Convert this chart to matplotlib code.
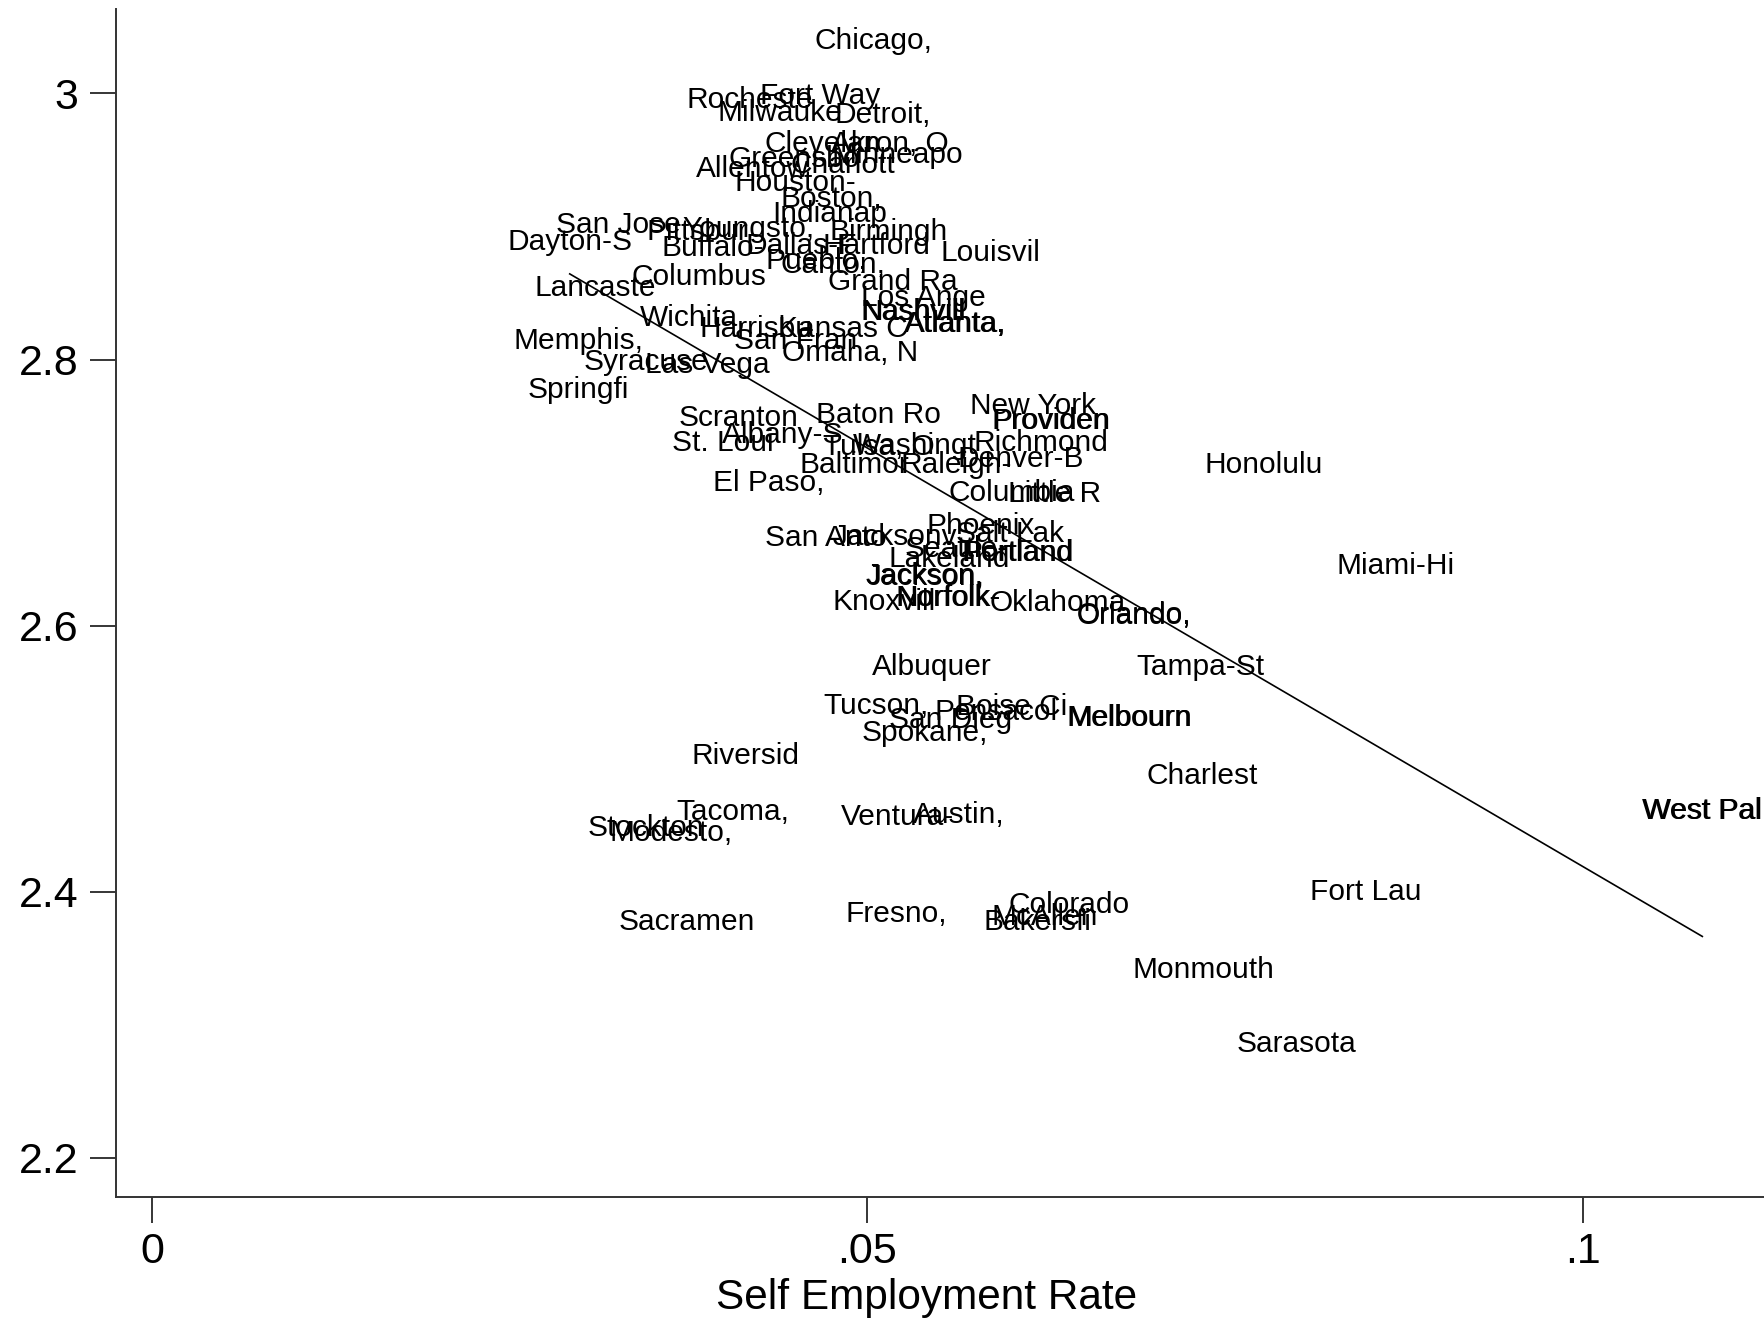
import numpy as np
import matplotlib
matplotlib.use('Agg')
import matplotlib.pyplot as plt

plt.rcParams['font.family'] = ['Liberation Sans', 'DejaVu Sans']

# metro area labels (truncated to 8 chars, as in the source), self employment rate, y value
cities = ['Chicago,', 'Rocheste', 'Fort Way', 'Milwauke', 'Detroit,', 'Clevelan', 'Akron, O',
          'Minneapo', 'Greensbo', 'Charlott', 'Allentow', 'Houston-', 'Boston,', 'Indianap',
          'San Jose', 'Dayton-S', 'Pittsbur', 'Youngsto,', 'Birmingh', 'Buffalo-', 'Dallas-F',
          'Hartford', 'Louisvil', 'Pueblo,', 'Canton,', 'Columbus', 'Grand Ra', 'Lancaste',
          'Los Ange', 'Nashvill', 'Nashvill', 'Atlanta,', 'Atlanta,', 'Kansas C', 'Wichita,',
          'Harrisbu', 'San Fran', 'Omaha, N', 'Memphis,', 'Syracuse', 'Las Vega', 'Springfi',
          'Scranton', 'Baton Ro', 'New York', 'Providen', 'Providen', 'St. Loui', 'Albany-S',
          'Tulsa, O', 'Washingt', 'Richmond', 'Baltimor', 'Raleigh-', 'Denver-B', 'El Paso,',
          'Columbia', 'Little R', 'Honolulu', 'San Anto', 'Jacksonv', 'Phoenix', 'Salt Lak',
          'Seattle-', 'Portland', 'Portland', 'Lakeland', 'Miami-Hi', 'Jackson,', 'Jackson,',
          'Knoxvill', 'Norfolk-', 'Norfolk-', 'Oklahoma', 'Orlando,', 'Orlando,', 'Albuquer',
          'Tampa-St', 'Tucson,', 'Boise Ci', 'Pensacol', 'San Dieg', 'Spokane,', 'Melbourn',
          'Melbourn', 'Riversid', 'Charlest', 'Tacoma,', 'Ventura-', 'Austin,', 'West Pal',
          'West Pal', 'Stockton', 'Modesto,', 'Fort Lau', 'Colorado', 'Fresno,', 'McAllen',
          'Sacramen', 'Bakersfi', 'Monmouth', 'Sarasota']

self_emp = [0.0504, 0.0418, 0.0467, 0.0439, 0.0511, 0.0469, 0.0516,
            0.0521, 0.0449, 0.0483, 0.0420, 0.0450, 0.0475, 0.0474,
            0.0326, 0.0292, 0.0381, 0.0417, 0.0515, 0.0392, 0.0454,
            0.0506, 0.0586, 0.0464, 0.0476, 0.0382, 0.0518, 0.0310,
            0.0539, 0.0532, 0.05325, 0.0561, 0.05615, 0.0483, 0.0378,
            0.0422, 0.0450, 0.0488, 0.0298, 0.0345, 0.0388, 0.0298,
            0.0410, 0.0508, 0.0616, 0.0628, 0.06285, 0.0399, 0.0441,
            0.0508, 0.0533, 0.0621, 0.0491, 0.0562, 0.0607, 0.0431,
            0.0601, 0.0631, 0.0777, 0.0471, 0.0519, 0.0579, 0.0600,
            0.0562, 0.0605, 0.06055, 0.0557, 0.0869, 0.0540, 0.05405,
            0.0512, 0.0556, 0.05565, 0.0633, 0.0686, 0.06865, 0.0545,
            0.0733, 0.0506, 0.0601, 0.0590, 0.0558, 0.0540, 0.0683,
            0.06835, 0.0415, 0.0734, 0.0406, 0.0521, 0.0564, 0.1083,
            0.10835, 0.0345, 0.0363, 0.0848, 0.0641, 0.0520, 0.0624,
            0.0374, 0.0619, 0.0735, 0.0800]

log_val = [3.041, 2.997, 3.000, 2.987, 2.986, 2.964, 2.964,
           2.956, 2.953, 2.948, 2.945, 2.935, 2.923, 2.911,
           2.903, 2.890, 2.898, 2.900, 2.898, 2.886, 2.887,
           2.887, 2.882, 2.876, 2.873, 2.864, 2.860, 2.856,
           2.848, 2.838, 2.8375, 2.829, 2.8285, 2.825, 2.833,
           2.825, 2.816, 2.807, 2.816, 2.800, 2.798, 2.779,
           2.758, 2.760, 2.767, 2.756, 2.7555, 2.739, 2.745,
           2.736, 2.737, 2.739, 2.723, 2.723, 2.727, 2.709,
           2.702, 2.701, 2.723, 2.668, 2.669, 2.677, 2.671,
           2.660, 2.657, 2.6565, 2.652, 2.647, 2.639, 2.6385,
           2.620, 2.623, 2.6225, 2.619, 2.610, 2.6095, 2.571,
           2.571, 2.542, 2.541, 2.537, 2.531, 2.521, 2.533,
           2.5325, 2.504, 2.489, 2.462, 2.458, 2.460, 2.463,
           2.4625, 2.450, 2.446, 2.402, 2.392, 2.385, 2.383,
           2.379, 2.379, 2.343, 2.288]

# fitted line
fit_intercept = 3.048
fit_slope = -6.29

fig = plt.figure(figsize=(17.64, 13.2), dpi=100)
ax = fig.add_axes([0.0657, 0.0929, 0.9343, 0.9003])

for name, x, y in zip(cities, self_emp, log_val):
    ax.annotate(name, (x, y), xytext=(0, -7.7), textcoords='offset points',
                ha='center', va='baseline', fontsize=21.5, color='black')

xs = np.array([min(self_emp), max(self_emp)])
ax.plot(xs, fit_intercept + fit_slope * xs, color='black', lw=1.2)

ax.set_xlim(-0.002516, 0.11266)
ax.set_ylim(2.1704, 3.0634)
ax.set_xticks([0, 0.05, 0.1])
ax.set_xticklabels(['0', '.05', '.1'])
ax.set_yticks([2.2, 2.4, 2.6, 2.8, 3.0])
ax.set_yticklabels(['2.2', '2.4', '2.6', '2.8', '3'])
ax.tick_params(axis='both', length=19, width=1.1, color='black', labelsize=31)
ax.tick_params(axis='x', pad=6)
ax.tick_params(axis='y', pad=8)
ax.set_xlabel('Self Employment Rate', fontsize=30.5, labelpad=4)
ax.xaxis.label.set_x(0.492)

for side in ['top', 'right']:
    ax.spines[side].set_visible(False)
for side in ['left', 'bottom']:
    ax.spines[side].set_color('#333333')
    ax.spines[side].set_linewidth(1.4)

fig.savefig('out.png', dpi=100)
